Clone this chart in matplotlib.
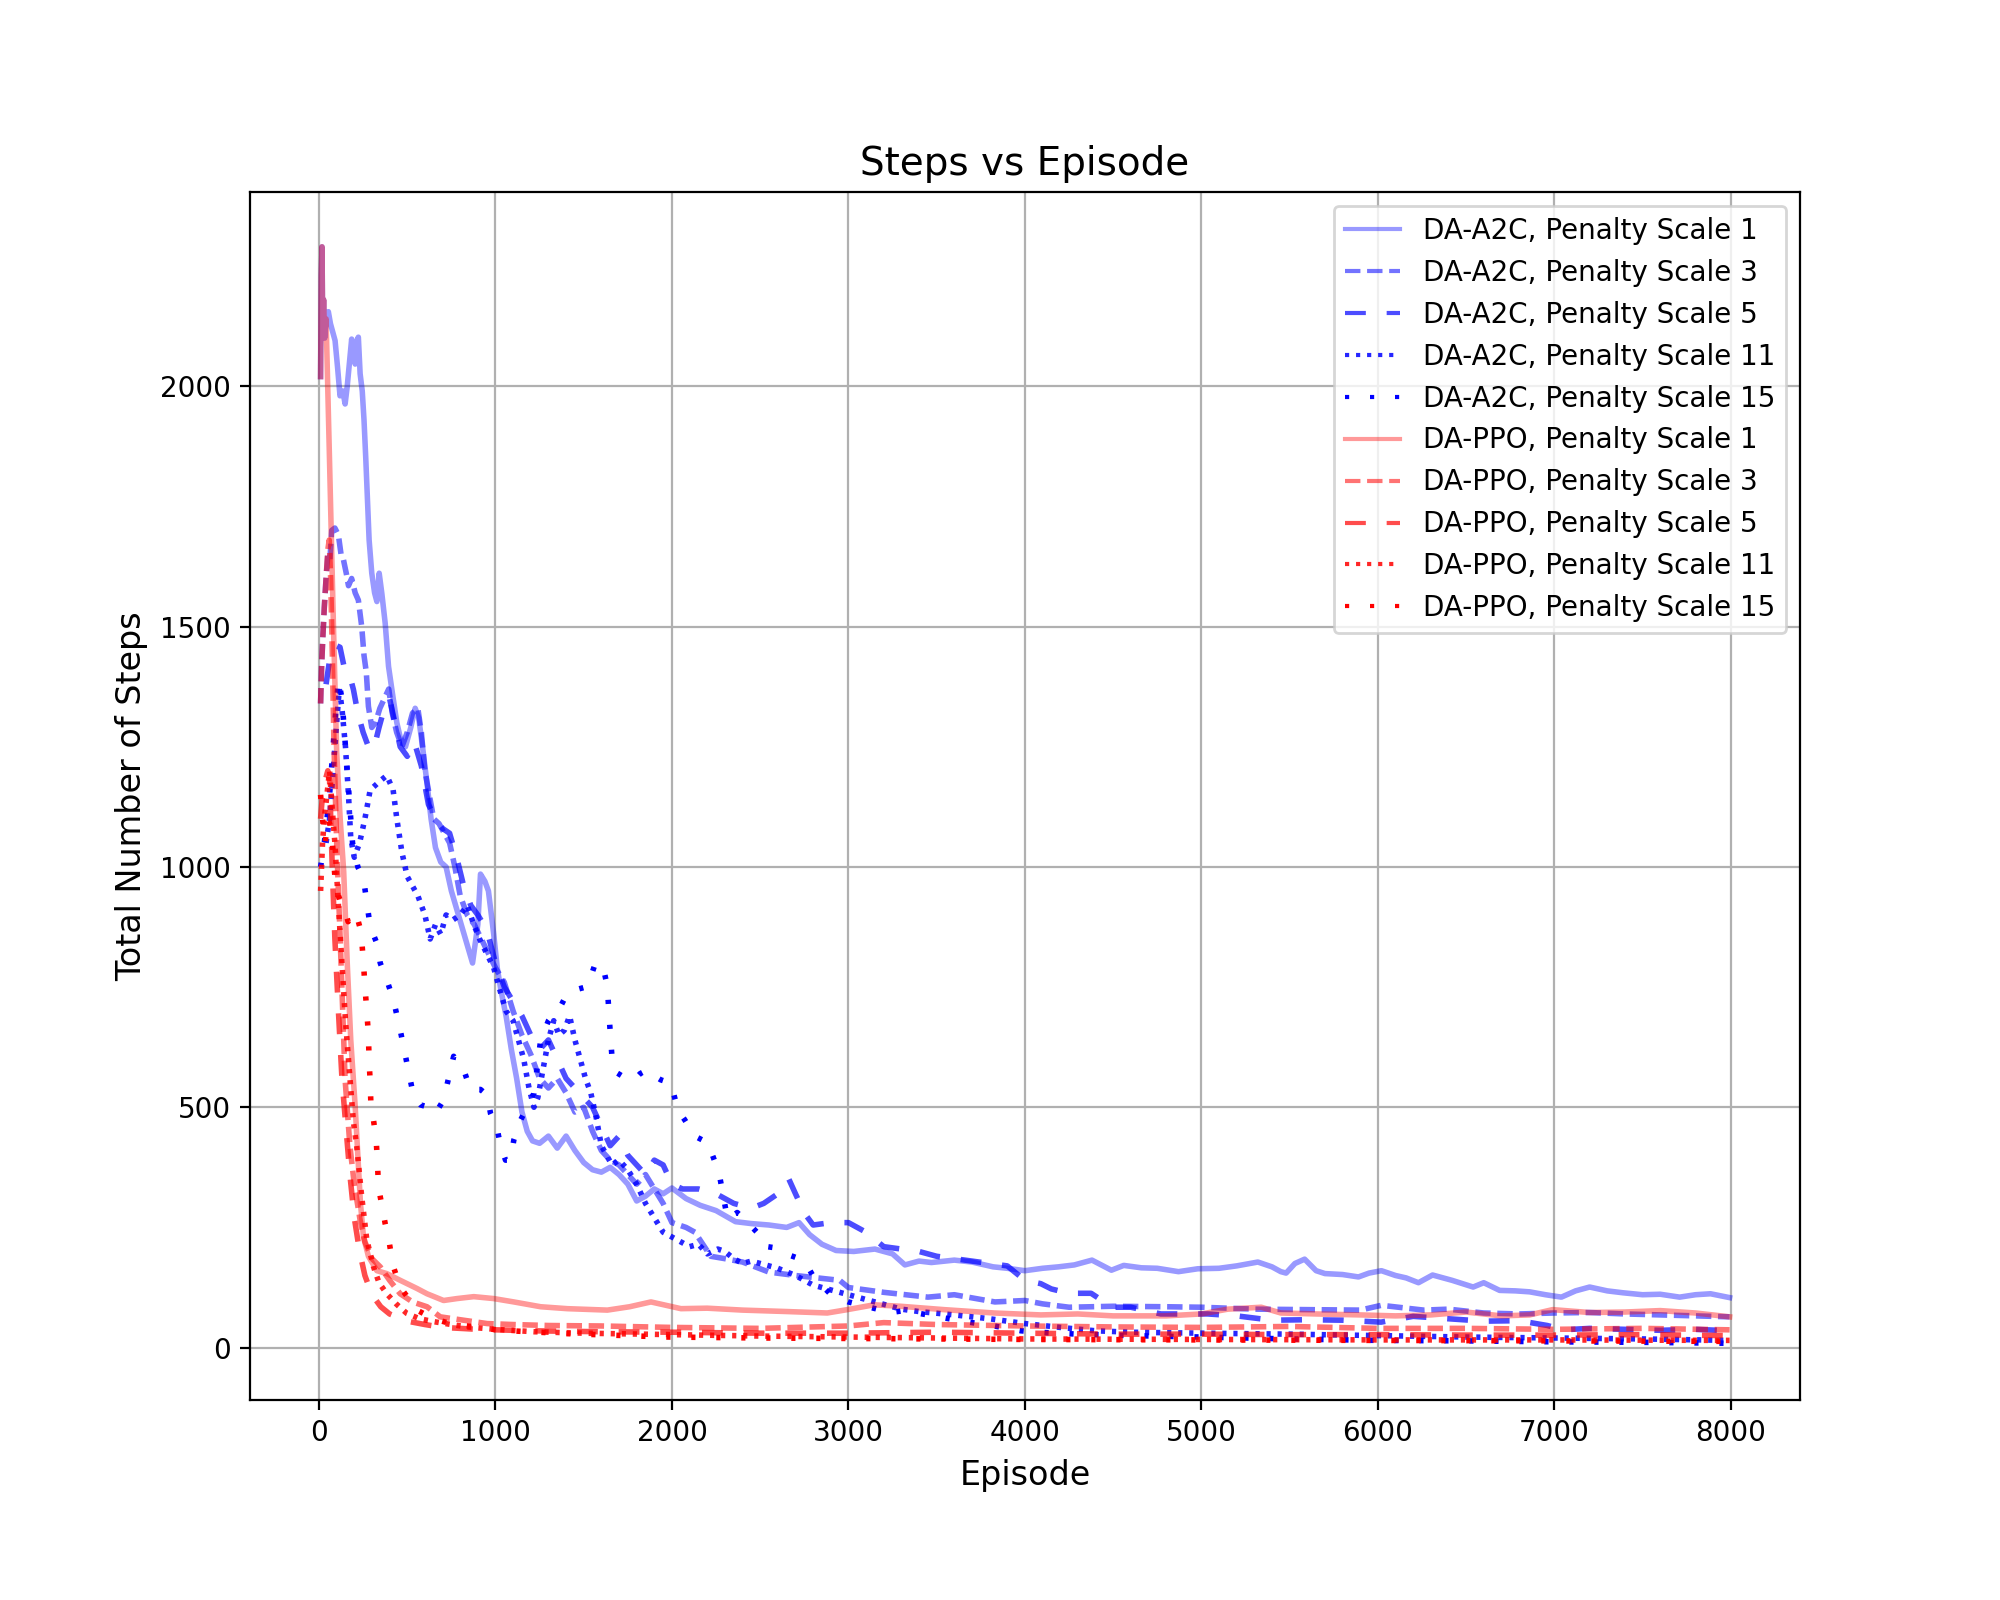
import matplotlib
matplotlib.use("Agg")
import matplotlib.pyplot as plt
from matplotlib.lines import Line2D

# ---------------- data (episode, smoothed total steps) ----------------
a2c_ps1 = [(9,2020),(13,2230),(17,2290),(21,2120),(26,2180),(32,2100),(40,2140),(53,2155),(65,2130),(80,2110),(91,2095),(105,2040),(119,1980),(135,1990),(148,1963),(160,2000),(170,2040),(185,2098),(195,2060),(205,2046),(215,2095),(223,2102),(233,2026),(245,1990),(255,1930),(265,1850),(275,1760),(284,1680),(299,1611),(315,1570),(328,1552),(341,1611),(356,1569),(375,1507),(394,1417),(413,1369),(441,1300),(460,1270),(490,1250),(520,1290),(545,1330),(565,1310),(590,1240),(610,1180),(635,1100),(660,1040),(690,1010),(720,1000),(750,950),(790,900),(830,850),(870,800),(900,880),(915,985),(940,970),(960,950),(990,860),(1010,790),(1030,745),(1060,690),(1090,620),(1120,560),(1150,490),(1180,450),(1210,430),(1250,425),(1300,440),(1350,415),(1400,440),(1450,410),(1500,385),(1550,370),(1600,365),(1650,375),(1700,360),(1750,340),(1800,305),(1850,315),(1900,330),(1950,320),(2000,332),(2080,310),(2160,296),(2250,285),(2360,262),(2450,258),(2550,255),(2650,250),(2720,260),(2780,235),(2850,215),(2930,202),(3030,200),(3150,205),(3250,195),(3320,172),(3400,180),(3470,177),(3600,182),(3700,178),(3820,168),(3900,165),(4000,160),(4100,165),(4190,168),(4280,172),(4380,182),(4490,161),(4560,171),(4660,166),(4750,165),(4870,158),(4980,164),(5100,165),(5200,170),(5320,178),(5400,168),(5450,158),(5480,155),(5530,175),(5585,184),(5650,160),(5700,154),(5800,152),(5890,147),(5950,155),(6020,160),(6100,150),(6160,145),(6230,135),(6310,151),(6420,140),(6540,126),(6600,135),(6690,119),(6780,118),(6860,116),(6950,110),(7040,105),(7120,118),(7200,126),(7300,118),(7390,114),(7500,110),(7600,111),(7710,105),(7800,110),(7885,112),(7993,104)]

a2c_ps3 = [(9,1340),(15,1420),(22,1480),(30,1540),(40,1600),(50,1650),(62,1640),(72,1700),(90,1705),(110,1690),(125,1650),(138,1640),(155,1610),(167,1585),(185,1600),(205,1570),(223,1555),(242,1500),(255,1440),(268,1405),(280,1334),(299,1290),(320,1300),(345,1330),(370,1350),(395,1370),(415,1320),(440,1280),(470,1250),(500,1280),(530,1320),(560,1330),(580,1280),(600,1200),(625,1150),(650,1100),(680,1090),(710,1070),(740,1050),(770,1000),(800,940),(840,900),(880,880),(920,850),(960,820),(1000,790),(1050,760),(1100,700),(1150,650),(1200,610),(1250,560),(1300,540),(1350,560),(1400,530),(1450,490),(1500,500),(1550,450),(1600,410),(1650,390),(1700,380),(1750,360),(1800,340),(1850,360),(1900,330),(1950,300),(2000,260),(2080,250),(2130,240),(2220,190),(2300,185),(2400,178),(2550,157),(2700,150),(2950,140),(3000,125),(3200,115),(3450,105),(3600,110),(3830,95),(4000,98),(4100,91),(4250,84),(4500,86),(4800,85),(5000,84),(5300,80),(5600,79),(5900,78),(6020,88),(6260,78),(6400,80),(6600,72),(6800,70),(7000,72),(7200,73),(7400,70),(7600,68),(7800,66),(7993,64)]

a2c_ps5 = [(40,1380),(60,1430),(80,1455),(100,1460),(119,1457),(140,1420),(160,1410),(180,1390),(195,1369),(220,1320),(250,1280),(280,1250),(310,1245),(340,1290),(370,1330),(400,1350),(430,1300),(460,1250),(500,1230),(540,1260),(580,1210),(620,1130),(660,1100),(700,1080),(740,1070),(780,1020),(820,960),(860,920),(900,900),(950,870),(1000,800),(1050,750),(1100,720),(1150,690),(1200,650),(1250,620),(1300,640),(1350,600),(1400,560),(1450,540),(1500,520),(1550,500),(1600,460),(1650,420),(1700,440),(1750,400),(1800,380),(1850,360),(1900,390),(1950,380),(2000,340),(2060,330),(2150,330),(2250,320),(2350,300),(2450,290),(2520,300),(2600,320),(2663,350),(2700,320),(2750,280),(2800,255),(2900,260),(3000,260),(3100,240),(3200,210),(3300,205),(3400,200),(3500,190),(3600,185),(3700,180),(3800,175),(3900,170),(4000,140),(4090,133),(4150,122),(4250,113),(4375,113),(4450,95),(4500,84),(4600,84),(4770,70),(5036,70),(5200,66),(5400,57),(5600,58),(5800,57),(6018,53),(6200,65),(6400,60),(6600,55),(6800,56),(6960,46),(7050,37),(7200,40),(7400,38),(7600,36),(7800,38),(7993,35)]

a2c_ps11 = [(40,1050),(60,1100),(80,1200),(100,1300),(115,1370),(130,1330),(150,1250),(167,1150),(180,1060),(200,1020),(230,1050),(260,1100),(290,1160),(320,1170),(350,1180),(384,1190),(420,1160),(441,1100),(470,1030),(500,980),(530,960),(560,940),(600,900),(630,850),(660,880),(690,860),(720,900),(760,890),(800,900),(840,920),(877,880),(910,850),(950,820),(990,790),(1028,740),(1060,700),(1100,680),(1130,640),(1160,600),(1190,540),(1218,500),(1240,520),(1270,580),(1300,640),(1330,680),(1360,650),(1390,660),(1420,690),(1450,640),(1480,600),(1510,560),(1540,530),(1570,480),(1600,420),(1630,400),(1660,380),(1700,390),(1750,370),(1800,340),(1850,300),(1900,270),(1950,240),(2000,230),(2050,220),(2100,210),(2150,215),(2200,195),(2260,205),(2300,200),(2350,185),(2400,175),(2450,180),(2500,175),(2550,170),(2600,165),(2700,150),(2800,130),(2900,120),(3000,110),(3100,100),(3200,90),(3300,80),(3400,75),(3600,68),(3800,60),(4000,50),(4200,42),(4400,35),(4600,32),(5000,30),(5500,28),(6000,25),(6500,22),(7000,20),(7500,18),(7993,15)]

a2c_ps15 = [(9,1000),(30,1050),(60,1150),(90,1300),(110,1390),(130,1350),(160,1200),(190,1050),(220,1000),(252,976),(290,876),(328,841),(347,800),(384,765),(422,723),(460,661),(498,592),(536,523),(575,505),(612,501),(659,487),(706,515),(725,546),(763,606),(790,590),(820,578),(858,537),(915,537),(953,525),(972,487),(1009,456),(1028,421),(1057,390),(1085,390),(1104,432),(1142,473),(1180,501),(1218,529),(1256,640),(1300,680),(1340,700),(1369,710),(1407,737),(1460,745),(1521,751),(1559,792),(1606,799),(1634,751),(1644,689),(1663,589),(1691,571),(1740,560),(1786,557),(1820,570),(1862,578),(1900,565),(1937,557),(1994,550),(2034,494),(2072,474),(2129,440),(2204,426),(2242,388),(2270,357),(2315,267),(2370,281),(2430,260),(2484,239),(2521,211),(2577,208),(2653,194),(2729,184),(2767,170),(2804,146),(2899,111),(3000,95),(3164,80),(3240,73),(3315,77),(3523,63),(3700,52),(3826,45),(3977,35),(4071,32),(4300,28),(4600,25),(5000,22),(5500,18),(6000,15),(6500,14),(7000,12),(7500,11),(7993,9)]

ppo_ps1 = [(9,2020),(13,2230),(17,2290),(21,2120),(26,2180),(32,2100),(40,2140),(44,2081),(60,1840),(80,1530),(100,1240),(120,1100),(140,990),(160,800),(180,640),(205,502),(220,400),(235,300),(252,230),(280,190),(328,160),(384,154),(460,140),(555,123),(612,112),(706,98),(782,102),(877,106),(990,102),(1104,95),(1256,85),(1407,81),(1634,78),(1760,85),(1881,95),(2051,81),(2200,82),(2400,78),(2653,75),(2880,72),(2994,79),(3145,89),(3296,86),(3542,79),(3826,72),(4090,68),(4300,70),(4500,66),(4800,66),(5000,70),(5150,80),(5339,84),(5450,72),(5650,70),(5900,68),(6100,66),(6300,68),(6500,74),(6700,66),(6860,68),(6990,79),(7200,73),(7400,74),(7600,77),(7800,72),(7993,64)]

ppo_ps3 = [(9,1340),(15,1420),(22,1480),(30,1540),(40,1600),(50,1660),(58,1680),(66,1600),(75,1450),(85,1250),(100,1050),(120,850),(148,557),(175,420),(200,340),(233,265),(260,220),(300,185),(347,168),(400,140),(460,112),(530,95),(612,85),(687,64),(800,58),(953,50),(1100,48),(1300,46),(1600,45),(2000,42),(2500,40),(3000,45),(3200,52),(3500,48),(4000,45),(4500,43),(5000,42),(5500,44),(6000,40),(6500,40),(7000,38),(7500,40),(7993,37)]

ppo_ps5 = [(9,1100),(20,1150),(35,1180),(50,1200),(60,1180),(75,1000),(90,850),(110,700),(130,560),(150,470),(175,360),(200,270),(230,200),(260,150),(300,110),(350,85),(400,70),(500,55),(600,48),(700,42),(900,38),(1200,35),(1600,33),(2000,32),(2500,30),(3000,30),(3500,32),(4000,30),(4500,28),(5000,28),(5500,27),(6000,27),(6500,26),(7000,26),(7500,27),(7993,25)]

ppo_ps11 = [(9,950),(20,1050),(30,1100),(45,1150),(60,1200),(75,1120),(90,1050),(110,920),(130,800),(150,680),(176,557),(195,470),(214,418),(242,314),(271,224),(309,168),(340,135),(384,112),(440,90),(498,71),(570,60),(650,54),(750,48),(839,43),(1000,38),(1218,33),(1500,30),(2000,27),(2500,24),(3000,22),(3500,20),(4000,18),(5000,17),(6000,16),(7000,16),(7993,15)]

ppo_ps15 = [(9,1150),(20,1100),(35,1050),(50,1100),(70,1080),(90,980),(110,940),(135,917),(150,905),(165,886),(180,900),(200,905),(220,890),(235,870),(242,848),(252,800),(261,748),(271,699),(280,651),(284,595),(290,554),(294,506),(299,501),(309,473),(324,432),(331,387),(337,334),(356,296),(375,258),(398,219),(419,171),(460,126),(555,78),(650,60),(744,50),(900,42),(1028,36),(1407,29),(1975,22),(2500,20),(3000,19),(4000,17),(5000,16),(6000,15),(7000,14),(7993,13)]

penalty_scales = [1, 3, 5, 11, 15]
a2c_series = [a2c_ps1, a2c_ps3, a2c_ps5, a2c_ps11, a2c_ps15]
ppo_series = [ppo_ps1, ppo_ps3, ppo_ps5, ppo_ps11, ppo_ps15]

# ---------------- styles ----------------
alphas = [0.4, 0.55, 0.7, 0.85, 1.0]
legend_styles = ['-', '--', (0, (5, 5)), ':', (0, (1, 5))]
# same on-screen dash lengths as the legend patterns at lw 1.5, drawn with lw 2.0
k = 1.5 / 2.0
plot_styles = ['-', (0, (3.7 * k, 1.6 * k)), (0, (5 * k, 5 * k)), (0, (1 * k, 1.65 * k)), (0, (1 * k, 5 * k))]

fig = plt.figure(figsize=(10, 8), dpi=200)
ax = fig.add_axes([0.125, 0.125, 0.775, 0.755])

handles = []
for name, color, series in (("DA-A2C", "blue", a2c_series), ("DA-PPO", "red", ppo_series)):
    for ps, data, a, ls, lls in zip(penalty_scales, series, alphas, plot_styles, legend_styles):
        xs = [p[0] for p in data]
        ys = [p[1] for p in data]
        ax.plot(xs, ys, color=color, alpha=a, linestyle=ls, linewidth=2.0)
        handles.append(Line2D([], [], color=color, alpha=a, linestyle=lls, linewidth=1.5,
                              label=f"{name}, Penalty Scale {ps}"))

ax.set_xlim(-391, 8392)
ax.set_ylim(-109, 2404)
ax.set_title("Steps vs Episode", fontsize=14)
ax.set_xlabel("Episode", fontsize=12)
ax.set_ylabel("Total Number of Steps", fontsize=12)
ax.grid(True, color='#b0b0b0', linewidth=0.8)
ax.legend(handles=handles, loc='upper right')

fig.savefig("out.png", dpi=200)
